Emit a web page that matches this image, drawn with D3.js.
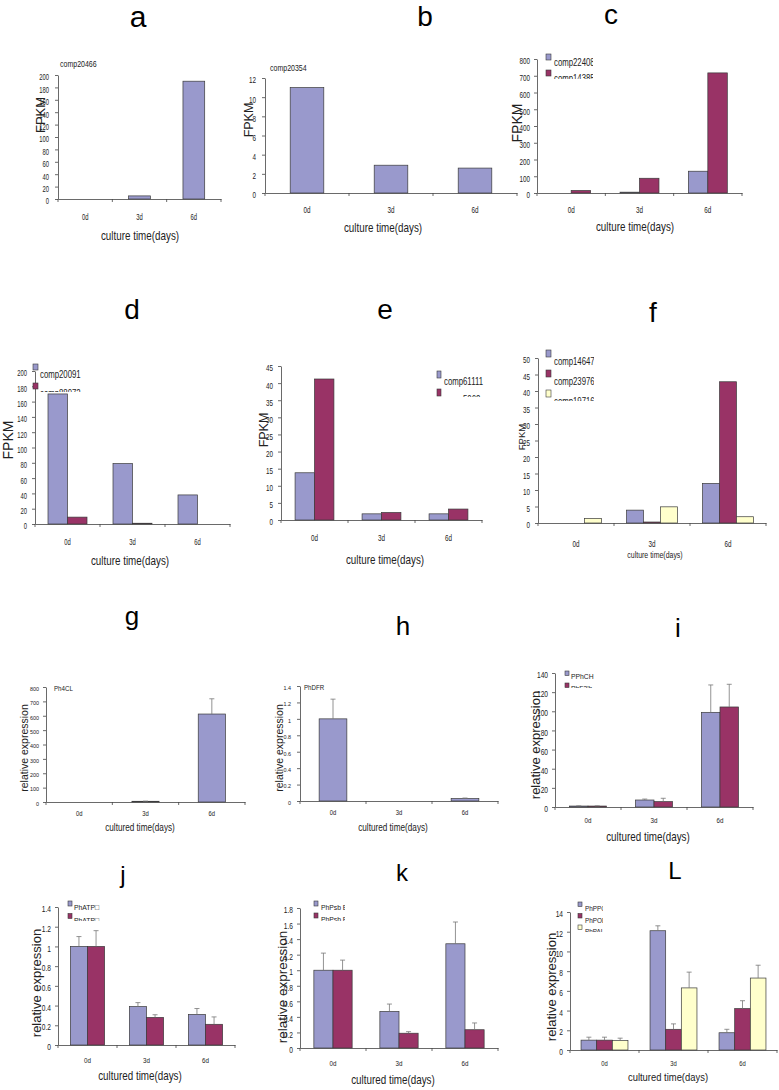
<!DOCTYPE html>
<html><head><meta charset="utf-8">
<script src="https://cdn.jsdelivr.net/npm/d3@7/dist/d3.min.js"></script>
<style>body{margin:0;background:#fff}svg{display:block}</style>
</head><body>
<script>
// ---------- data ----------
const categories = ["0d", "3d", "6d"];

const aSeries = ["comp20466"];
const aValues = [[0, 5, 190]];
const aTicks = [0, 20, 40, 60, 80, 100, 120, 140, 160, 180, 200];

const bSeries = ["comp20354"];
const bValues = [[11.0, 2.9, 2.6]];
const bTicks = [0, 2, 4, 6, 8, 10, 12];

const cSeries = ["comp22408", "comp14385"];
const cValues = [[0, 5, 130], [15, 88, 717]];
const cTicks = [0, 100, 200, 300, 400, 500, 600, 700, 800];

const dSeries = ["comp20091", "comp88972"];
const dValues = [[170, 79, 38], [9, 1, 0]];
const dTicks = [0, 20, 40, 60, 80, 100, 120, 140, 160, 180, 200];

const eSeries = ["comp61111", "comp5062"];
const eValues = [[13.8, 1.8, 1.8], [41.2, 2.2, 3.2]];
const eTicks = [0, 5, 10, 15, 20, 25, 30, 35, 40, 45];

const fSeries = ["comp14647", "comp23976", "comp19716"];
const fValues = [[0, 3.9, 12], [0, 0.3, 42.8], [1.4, 4.9, 1.9]];
const fTicks = [0, 5, 10, 15, 20, 25, 30, 35, 40, 45, 50];

const gSeries = ["Ph4CL"];
const gValues = [[0, 5, 612]];
const gErrors = [[0, 1, 106]];
const gTicks = [0, 100, 200, 300, 400, 500, 600, 700, 800];

const hSeries = ["PhDFR"];
const hValues = [[1.0, 0, 0.03]];
const hErrors = [[0.24, 0, 0.006]];
const hTicks = [0, 0.2, 0.4, 0.6, 0.8, 1, 1.2, 1.4];

const iSeries = ["PPhCH", "PhF3'h"];
const iValues = [[1, 7.3, 98.9], [1, 5.6, 104.5]];
const iErrors = [[0.2, 1, 28.6], [0.2, 3.5, 23.7]];
const iTicks = [0, 20, 40, 60, 80, 100, 120, 140];

const jSeries = ["PhATP\u25A1", "PhATP\u25A1"];
const jValues = [[1, 0.39, 0.31], [1, 0.28, 0.21]];
const jErrors = [[0.1, 0.04, 0.06], [0.16, 0.027, 0.075]];
const jTicks = [0, 0.2, 0.4, 0.6, 0.8, 1, 1.2, 1.4];

const kSeries = ["PhPsb E", "PhPsb F"];
const kValues = [[1, 0.47, 1.34], [1, 0.19, 0.235]];
const kErrors = [[0.22, 0.095, 0.28], [0.13, 0.02, 0.087]];
const kTicks = [0, 0.2, 0.4, 0.6, 0.8, 1, 1.2, 1.4, 1.6, 1.8];

const lSeries = ["PhPPO", "PhPOD", "PhPAL"];
const lValues = [[1.0, 12.1, 1.75], [1.0, 2.1, 4.2], [0.95, 6.3, 7.3]];
const lErrors = [[0.3, 0.5, 0.35], [0.3, 0.55, 0.8], [0.25, 1.6, 1.3]];
const lTicks = [0, 2, 4, 6, 8, 10, 12, 14];

// ---------- style ----------
const COLORS = ["#9999cc", "#993366", "#ffffcc"];
const SANS = "'Liberation Sans',Arial,sans-serif";
const AXIS = "#444";
const TXT = "#222";
const NX = 0.78; // horizontal squeeze for the condensed texts

const svg = d3.select("body").append("svg").attr("width", 779).attr("height", 1090);

function squeezed(g, x, y, size, sx, txt, anchor) {
  return g.append("text").attr("transform", `translate(${x},${y}) scale(${sx},1)`)
    .attr("text-anchor", anchor || "start").attr("dominant-baseline", "middle")
    .attr("font-family", SANS).attr("font-size", size).attr("fill", TXT).text(txt);
}

let clipId = 0;
function panel(p) {
  const g = svg.append("g");
  const x = d3.scaleBand().domain(categories).range([p.x0, p.x1]);
  const y = d3.scaleLinear().domain([0, d3.max(p.ticks)]).range([p.y0, p.yTop]);
  const gw = x.bandwidth() * p.group;
  const xs = d3.scaleBand().domain(d3.range(p.series.length)).range([0, gw]);
  const off = (x.bandwidth() - gw) / 2;
  const tsx = p.tickSx || NX;

  // bars
  p.values.forEach((vals, si) => {
    const recs = vals.map((v, ci) => ({v, c: categories[ci], e: p.errors ? p.errors[si][ci] : 0}));
    g.selectAll(null).data(recs.filter(d => d.v > 0)).join("rect")
      .attr("x", d => x(d.c) + off + xs(si))
      .attr("y", d => y(d.v))
      .attr("width", xs.bandwidth())
      .attr("height", d => p.y0 - y(d.v))
      .attr("fill", COLORS[si]).attr("stroke", "#3a3a3a").attr("stroke-width", 0.7);
    if (p.errors) {
      const er = recs.filter(d => d.v > 0 && d.e > 0);
      const cx = d => x(d.c) + off + xs(si) + xs.bandwidth() / 2;
      g.selectAll(null).data(er).join("line")
        .attr("x1", cx).attr("x2", cx)
        .attr("y1", d => y(d.v)).attr("y2", d => y(d.v + d.e))
        .attr("stroke", "#777").attr("stroke-width", 0.8);
      g.selectAll(null).data(er).join("line")
        .attr("x1", d => cx(d) - 2.5).attr("x2", d => cx(d) + 2.5)
        .attr("y1", d => y(d.v + d.e)).attr("y2", d => y(d.v + d.e))
        .attr("stroke", "#777").attr("stroke-width", 0.8);
    }
  });

  // y axis
  const pad = p.tickPad || 4;
  const ya = g.append("g").attr("transform", `translate(${p.x0},0)`)
    .call(d3.axisLeft(y).tickValues(p.ticks).tickSize(3).tickSizeOuter(0).tickPadding(pad)
      .tickFormat(d => String(d)));
  ya.select(".domain").attr("stroke", AXIS).attr("stroke-width", 0.8);
  ya.selectAll(".tick line").attr("stroke", AXIS).attr("stroke-width", 0.8);
  ya.selectAll(".tick text").attr("font-family", SANS).attr("font-size", p.tickSize || 9)
    .attr("fill", TXT).attr("dy", p.tickDy || "0.55em")
    .attr("transform", `scale(${tsx},1)`).attr("x", -(3 + pad) / tsx);

  // x axis
  const xa = g.append("g").attr("transform", `translate(0,${p.y0})`)
    .call(d3.axisBottom(x).tickSize(0).tickPadding(p.catPad).tickSizeOuter(0));
  xa.select(".domain").attr("stroke", AXIS).attr("stroke-width", 0.8);
  xa.selectAll(".tick text").attr("font-family", SANS).attr("font-size", p.catSize || 9)
    .attr("fill", TXT).attr("transform", `scale(${tsx},1)`);
  const bounds = categories.map(c => x(c)).concat([p.x1]);
  g.selectAll(null).data(bounds).join("line")
    .attr("x1", d => d).attr("x2", d => d).attr("y1", p.y0).attr("y2", p.y0 + 3)
    .attr("stroke", AXIS).attr("stroke-width", 0.8);

  // titles
  g.append("text").attr("x", p.title[1]).attr("y", p.title[2]).attr("text-anchor", "middle")
    .attr("dominant-baseline", "middle").attr("font-family", SANS).attr("font-size", p.title[3])
    .attr("fill", "#000").text(p.title[0]);
  g.append("text").attr("transform", `translate(${p.ylab[1]},${p.ylab[2]}) rotate(-90)`)
    .attr("text-anchor", "middle").attr("dominant-baseline", "middle")
    .attr("font-family", SANS).attr("font-size", p.ylab[3]).attr("fill", TXT).text(p.ylab[0]);
  squeezed(g, p.xlab[1], p.xlab[2], p.xlab[3], 0.82, p.xlab[0], "middle");

  if (p.note) squeezed(g, p.note[0], p.note[1], p.note[2], p.note[3] || NX, p.series[0]);

  if (p.legend) {
    const L = p.legend;
    const id = "clip" + (clipId++);
    svg.append("clipPath").attr("id", id).append("rect")
      .attr("x", L.x - 2).attr("y", L.y - 4).attr("width", L.clipRight - L.x + 2).attr("height", L.clipBottom - L.y + 4);
    const lg = g.append("g").attr("clip-path", `url(#${id})`);
    p.series.forEach((s, i) => {
      lg.append("rect").attr("x", L.x).attr("y", L.y + i * L.dy).attr("width", L.bw).attr("height", L.bh)
        .attr("fill", COLORS[i]).attr("stroke", "#3a3a3a").attr("stroke-width", 0.6);
      squeezed(lg, L.x + L.tx, L.y + i * L.dy + L.ty, L.size, L.sx || NX, s);
    });
  }
}

// ---------- panels ----------
panel({series: aSeries, values: aValues, ticks: aTicks, x0: 58, x1: 221, y0: 199, yTop: 75, group: 0.4,
  catPad: 15, tickPad: 6, tickSx: 0.65, title: ["a", 138, 19, 30], ylab: ["FPKM", 42, 115, 13],
  xlab: ["culture time(days)", 140, 237, 12], note: [60, 65, 9]});
panel({series: bSeries, values: bValues, ticks: bTicks, x0: 265, x1: 517, y0: 193, yTop: 78, group: 0.4,
  catPad: 14, tickPad: 6, tickSx: 0.7, title: ["b", 425, 19, 28], ylab: ["FPKM", 250, 120, 12.5],
  xlab: ["culture time(days)", 383, 229, 12], note: [270, 69, 9]});
panel({series: cSeries, values: cValues, ticks: cTicks, x0: 537, x1: 742, y0: 193, yTop: 59, group: 0.57,
  catPad: 14, tickPad: 4, tickSx: 0.7, title: ["c", 611, 17, 28], ylab: ["FPKM", 518, 123, 14],
  xlab: ["culture time(days)", 635, 228, 12],
  legend: {x: 546, y: 54, dy: 16, bw: 5, bh: 6, tx: 8, ty: 9.5, size: 10, clipRight: 593, clipBottom: 79}});

panel({series: dSeries, values: dValues, ticks: dTicks, x0: 35, x1: 230, y0: 524, yTop: 371, group: 0.6,
  catPad: 15, tickPad: 5, tickSx: 0.65, title: ["d", 132, 312, 28], ylab: ["FPKM", 9, 440, 14],
  xlab: ["culture time(days)", 130, 562, 12],
  legend: {x: 33, y: 364, dy: 19, bw: 5, bh: 6, tx: 7, ty: 11.5, size: 10, clipRight: 82, clipBottom: 392}});
panel({series: eSeries, values: eValues, ticks: eTicks, x0: 281, x1: 482, y0: 520, yTop: 366, group: 0.58,
  catPad: 15, tickPad: 5, tickSx: 0.7, title: ["e", 385, 312, 28], ylab: ["FPKM", 265, 430, 12.5],
  xlab: ["culture time(days)", 385, 561, 12],
  legend: {x: 437, y: 371, dy: 18, bw: 4, bh: 7, tx: 7, ty: 11, size: 10, clipRight: 484, clipBottom: 397}});
panel({series: fSeries, values: fValues, ticks: fTicks, x0: 538, x1: 766, y0: 523, yTop: 358, group: 0.67,
  catPad: 18, tickPad: 5, tickSx: 0.7, title: ["f", 653, 315, 28], ylab: ["FPKM", 522, 437, 9.5],
  xlab: ["culture time(days)", 655, 556, 8.5],
  legend: {x: 546, y: 350, dy: 20, bw: 5, bh: 7, tx: 8, ty: 12, size: 10, clipRight: 594, clipBottom: 401}});

panel({series: gSeries, values: gValues, errors: gErrors, ticks: gTicks, x0: 46, x1: 245, y0: 802, yTop: 687, group: 0.41,
  catPad: 9, tickPad: 4, tickSx: 0.9, tickSize: 6, catSize: 6.5, title: ["g", 132, 618, 26],
  ylab: ["relative expression", 25, 748, 10.5], xlab: ["cultured time(days)", 140, 828, 10], note: [54, 689, 6.5, 0.95]});
panel({series: hSeries, values: hValues, errors: hErrors, ticks: hTicks, x0: 300, x1: 498, y0: 801, yTop: 686, group: 0.42,
  catPad: 9, tickPad: 6, tickSx: 0.9, tickSize: 6, catSize: 6.5, title: ["h", 403, 628, 26],
  ylab: ["relative expression", 280, 748, 10.5], xlab: ["cultured time(days)", 393, 828, 10], note: [304, 688, 6.5, 0.95]});
panel({series: iSeries, values: iValues, errors: iErrors, ticks: iTicks, x0: 555, x1: 753, y0: 807, yTop: 673, group: 0.56,
  catPad: 10, tickPad: 4, tickSize: 8.5, catSize: 8, title: ["i", 678, 630, 26],
  ylab: ["relative expression", 537, 745, 13], xlab: ["cultured time(days)", 648, 838, 12],
  legend: {x: 565, y: 671, dy: 12, bw: 4, bh: 4.5, tx: 6, ty: 6, size: 8, sx: 0.85, clipRight: 594, clipBottom: 688}});

panel({series: jSeries, values: jValues, errors: jErrors, ticks: jTicks, x0: 58, x1: 235, y0: 1045, yTop: 907, group: 0.58,
  catPad: 12, tickPad: 4, tickSize: 8.5, catSize: 8, title: ["j", 123, 877, 24],
  ylab: ["relative expression", 38, 983, 13], xlab: ["cultured time(days)", 140, 1077, 12],
  legend: {x: 68, y: 901, dy: 12.5, bw: 4, bh: 5, tx: 6, ty: 7, size: 8, sx: 0.85, clipRight: 100, clipBottom: 921}});
panel({series: kSeries, values: kValues, errors: kErrors, ticks: kTicks, x0: 300, x1: 498, y0: 1048, yTop: 908, group: 0.58,
  catPad: 12, tickPad: 4, tickSize: 8.5, catSize: 8, title: ["k", 402, 875, 24],
  ylab: ["relative expression", 283, 987, 13.5], xlab: ["cultured time(days)", 393, 1081, 12],
  legend: {x: 314, y: 901, dy: 12, bw: 4, bh: 5, tx: 7, ty: 7, size: 8, sx: 0.85, clipRight: 345, clipBottom: 921}});
panel({series: lSeries, values: lValues, errors: lErrors, ticks: lTicks, x0: 570, x1: 777, y0: 1050, yTop: 912, group: 0.68,
  catPad: 11, tickPad: 4, tickSize: 8.5, catSize: 7.5, title: ["L", 675, 873, 24],
  ylab: ["relative expression", 553, 987, 13], xlab: ["cultured time(days)", 668, 1078, 11.5],
  legend: {x: 578, y: 902, dy: 11.5, bw: 4, bh: 4.5, tx: 7, ty: 7.5, size: 7.5, sx: 0.85, clipRight: 603, clipBottom: 932}});
</script>
</body></html>
